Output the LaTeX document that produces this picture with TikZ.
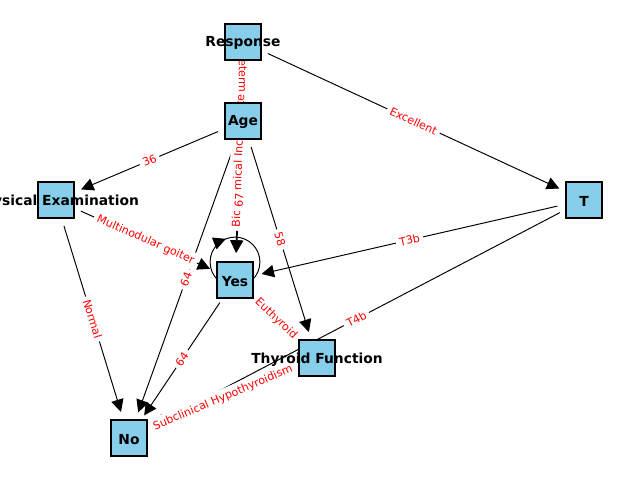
\documentclass[tikz,border=0pt]{standalone}
\usepackage{fontspec}
\setmainfont{DejaVu Sans}
\usetikzlibrary{arrows.meta,decorations.markings}
\definecolor{skyblue}{RGB}{135,206,235}
\pgfdeclarelayer{back}
\pgfsetlayers{back,main}

\begin{document}
\begin{tikzpicture}
  [x=0.7227pt,y=-0.7227pt,
   vertex/.style={circle,minimum size=39pt,inner sep=0pt,
     path picture={\draw[fill=skyblue,line width=0.8pt]
       ([shift={(-13pt,-13pt)}]path picture bounding box.center) rectangle
       ([shift={(13pt,13pt)}]path picture bounding box.center);}},
   vtext/.style={font=\fontsize{10}{12}\selectfont\bfseries,inner sep=0pt,yshift=-1pt},
   link/.style={line width=0.7pt,-{Triangle[length=9pt,width=9pt]}},
   elabel/.style={sloped,midway,fill=white,rounded corners=2pt,inner sep=2.5pt,
     text=red,font=\fontsize{8}{9.6}\selectfont}]
  \useasboundingbox (0,0) rectangle (640,480);

  \node[vertex,label={[vtext]center:Response}] (resp) at (243,42) {};
  \node[vertex,label={[vtext]center:Age}] (age) at (243,121) {};
  \node[vertex,label={[vtext]center:Physical Examination}] (pe) at (56,200) {};
  \node[vertex,label={[vtext]center:T}] (t) at (584,200) {};
  \node[vertex,label={[vtext]center:Yes}] (yes) at (235,280) {};
  \node[vertex,label={[vtext]center:Thyroid Function}] (tf) at (317,358) {};
  \node[vertex,label={[vtext]center:No}] (no) at (129,438) {};

  \begin{pgfonlayer}{back}
  \foreach \from/\to in {resp/t,resp/age,resp/yes,age/pe,age/yes,age/no,age/tf,
      pe/yes,pe/no,t/yes,t/no,yes/no,yes/tf,tf/no}
    \draw[link] (\from) -- (\to);

  % self loop on Yes
  \draw[line width=0.7pt,postaction={decorate},
    decoration={markings,mark=at position 0.31 with
      {\arrowreversed{Triangle[length=9pt,width=9pt]}}}]
    ([yshift=13pt]yes.center) circle[radius=18pt];

  \foreach \from/\to/\txt in {resp/age/Indeterminate,resp/t/Excellent,
      resp/yes/Biochemical Incomplete,age/pe/36,age/yes/67,age/no/64,age/tf/58,
      pe/yes/Multinodular goiter,pe/no/Normal,t/yes/T3b,t/no/T4b,yes/no/64,
      yes/tf/Euthyroid,tf/no/Subclinical Hypothyroidism}
    \path (\from) -- node[elabel] {\txt} (\to);
  \end{pgfonlayer}
\end{tikzpicture}
\end{document}
